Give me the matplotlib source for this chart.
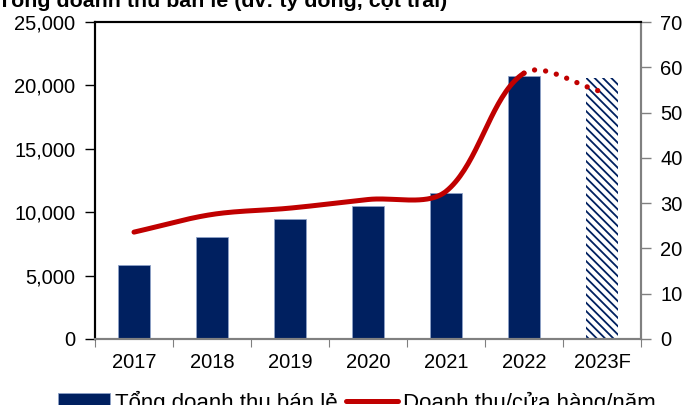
import numpy as np
import matplotlib
matplotlib.use('Agg')
import matplotlib.pyplot as plt
from matplotlib.ticker import FuncFormatter

plt.rcParams['font.family'] = ['Liberation Sans', 'DejaVu Sans']
plt.rcParams['hatch.linewidth'] = 1.3

# dữ liệu
years = ['2017', '2018', '2019', '2020', '2021', '2022', '2023F']
revenue = [5800, 8060, 9470, 10450, 11520, 20730, 20600]   # tỷ đồng, cột trái
per_store = [23.6, 27.5, 28.9, 30.8, 32.6, 58.7, 54.6]     # cột phải

navy = '#002060'
red = '#C00000'
grey = '#808080'
fs = 14.5

fig = plt.figure(figsize=(6.99, 4.05), dpi=100)
ax = fig.add_axes([95 / 699, 1 - 339 / 405, 546 / 699, 317 / 405])
ax2 = ax.twinx()

x = np.arange(len(years))
ax.bar(x[:-1], revenue[:-1], width=0.41, color=navy, edgecolor='#8EA2C8',
       linewidth=0.6, label='Tổng doanh thu bán lẻ', zorder=2)
ax.bar(x[-1], revenue[-1], width=0.41, color='white', edgecolor=navy,
       hatch='\\\\\\\\', linewidth=0, zorder=2)


# đường cong kiểu Excel: bezier, độ dài tay nắm theo độ dài đoạn (tính theo pixel)
def smooth_segments(xs, ys, sx=78.0, sy=4.54, n=40):
    pts = np.column_stack([np.asarray(xs, float) * sx, np.asarray(ys, float) * sy])
    m = len(pts)
    d = np.linalg.norm(np.diff(pts, axis=0), axis=1)
    segs = []
    for i in range(m - 1):
        p1, p2 = pts[i], pts[i + 1]
        if i > 0:
            t1 = pts[i + 1] - pts[i - 1]
            c1 = p1 + t1 * d[i] / (d[i - 1] + d[i]) / 3
        else:
            c1 = p1 + (p2 - p1) / 3
        if i + 2 < m:
            t2 = pts[i + 2] - pts[i]
            c2 = p2 - t2 * d[i] / (d[i] + d[i + 1]) / 3
        else:
            c2 = p2 - (p2 - p1) / 3
        t = np.linspace(0, 1, n)[:, None]
        seg = ((1 - t) ** 3) * p1 + 3 * ((1 - t) ** 2) * t * c1 + 3 * (1 - t) * t ** 2 * c2 + t ** 3 * p2
        segs.append(seg / [sx, sy])
    return segs


segs = smooth_segments(x, per_store)
solid = np.vstack(segs[:-1])
dotted = segs[-1]
ax2.plot(solid[:, 0], solid[:, 1], color=red, lw=3.6, solid_capstyle='round',
         label='Doanh thu/cửa hàng/năm', zorder=3)
ax2.plot(dotted[:, 0], dotted[:, 1], color=red, lw=3.8, linestyle=(0, (0.01, 2.1)),
         dash_capstyle='round', zorder=3)

ax.set_xlim(-0.5, 6.5)
ax.set_ylim(0, 25000)
ax2.set_ylim(0, 70)
ax.set_yticks(range(0, 25001, 5000))
ax2.set_yticks(range(0, 71, 10))
ax.yaxis.set_major_formatter(FuncFormatter(lambda v, p: f'{int(v):,}'))
ax.set_xticks(x)
ax.set_xticklabels(years)
ax.set_xticks(np.arange(-0.5, 7, 1), minor=True)

ax.tick_params(axis='x', which='major', length=0, labelsize=fs, pad=10)
ax.tick_params(axis='x', which='minor', length=6, color=grey, width=0.8)
ax.tick_params(axis='y', length=7, width=1, color='black', labelsize=fs, pad=7)
ax2.tick_params(axis='y', length=7, width=1, color=grey, labelsize=fs, pad=7)

for a in (ax, ax2):
    a.spines['left'].set_color('black')
    a.spines['top'].set_color('black')
    a.spines['bottom'].set_color(grey)
    a.spines['right'].set_color(grey)
    for s in a.spines.values():
        s.set_linewidth(1.5)

fig.text(447 / 699, 1 - 7 / 405, 'Tổng doanh thu bán lẻ (đv: tỷ đồng, cột trái)',
         ha='right', va='baseline', fontsize=15.4, fontweight='bold')

h1, l1 = ax.get_legend_handles_labels()
h2, l2 = ax2.get_legend_handles_labels()
fig.legend(h1 + h2, l1 + l2, loc='upper left', bbox_to_anchor=(58 / 699, 1 - 391 / 405),
           ncol=2, frameon=False, fontsize=16, handlelength=2.35, handleheight=0.8,
           handletextpad=0.22, columnspacing=0.35, borderaxespad=0, borderpad=0)

fig.savefig('out.png', dpi=100)
